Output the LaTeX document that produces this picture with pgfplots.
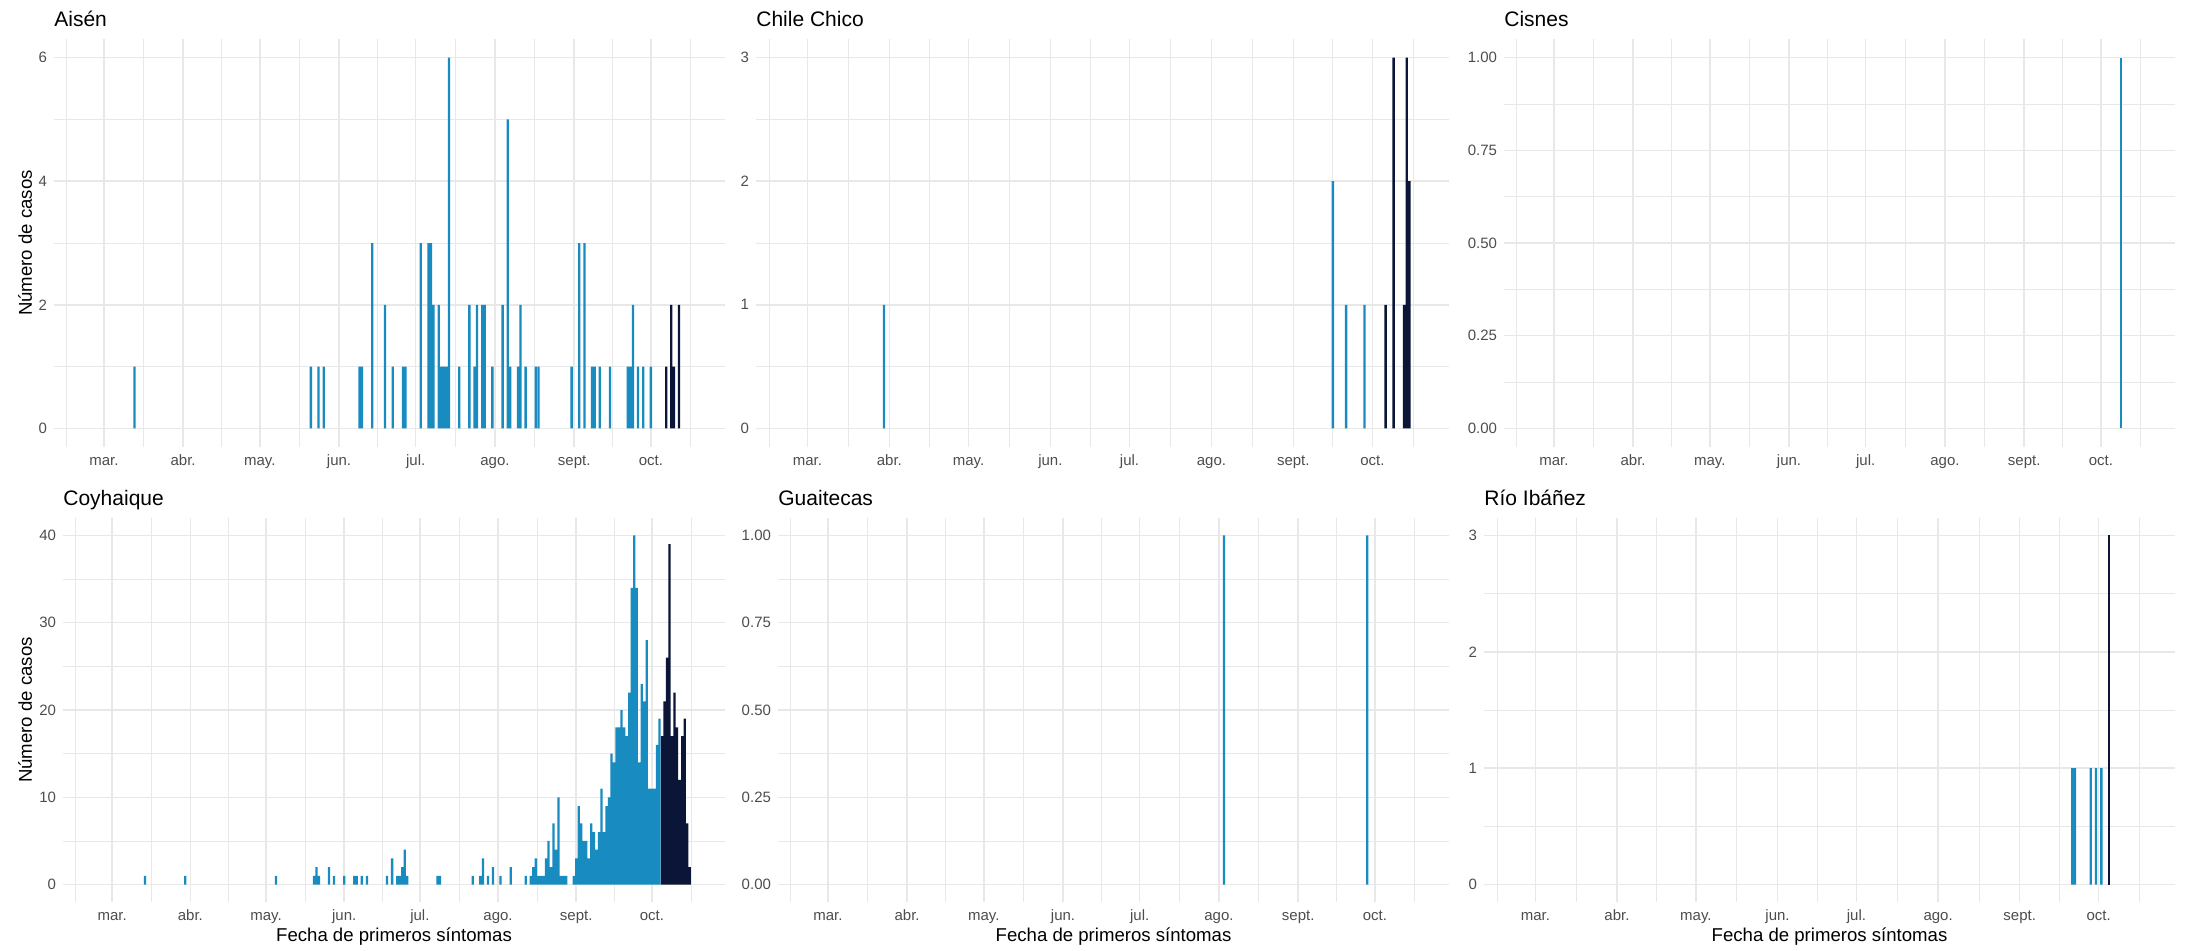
\documentclass[border=0pt]{standalone}
\usepackage{fontspec}
\setmainfont{Liberation Sans}
\usepackage{pgfplots}
\pgfplotsset{compat=1.18}
\definecolor{cblue}{RGB}{24,140,192}
\definecolor{cdark}{RGB}{11,21,56}
\definecolor{gridc}{RGB}{232,232,232}
\definecolor{tickc}{RGB}{77,77,77}
\pgfplotsset{
  panel/.style={
    scale only axis,
    xmin=-19.5, xmax=243,
    xtick={0,31,61,92,122,153,184,214},
    xticklabels={mar.,abr.,may.,jun.,jul.,ago.,sept.,oct.},
    minor xtick={-14.5,15.5,46,76.5,107,137.5,168.5,199,229.5},
    grid=both,
    major grid style={draw=gridc, line width=0.75pt},
    minor grid style={draw=gridc, line width=0.4pt},
    axis line style={draw=none},
    tick style={draw=none},
    tick label style={font=\fontsize{7.5}{9}\selectfont, text=tickc},
    xticklabel style={anchor=base, yshift=-9pt},
    /pgf/number format/assume math mode=true,
    every axis title/.style={font=\fontsize{10.5}{12}\selectfont, at={(axis description cs:0,1)}, anchor=base west, yshift=6.5pt, inner sep=0pt},
    every axis y label/.style={rotate=90, anchor=center, font=\fontsize{9.3}{11}\selectfont},
    every axis x label/.style={at={(axis description cs:0.5,0)}, yshift=-17.5pt, anchor=center, font=\fontsize{9.3}{11}\selectfont},
  },
  toprow/.style={panel, height=204pt},
  botrow/.style={panel, height=192pt},
  bl/.style={ybar, bar width=0.9, bar shift=0pt, fill=cblue, draw=none},
  dk/.style={ybar, bar width=0.9, bar shift=0pt, fill=cdark, draw=none},
}
\begin{document}
\begin{tikzpicture}
\path[use as bounding box] (0,0) rectangle (1094.5pt,475pt);

% Aisen
\begin{axis}[toprow, width=335.5pt, at={(27pt,251.5pt)}, anchor=south west,
  ymin=-0.3, ymax=6.3, ytick={0,2,4,6}, yticklabels={0,2,4,6}, minor ytick={1,3,5},
  title={Aisén}, ylabel={Número de casos},
  ylabel style={at={(axis description cs:-0.0432,0.5)}}]
\addplot[bl] coordinates {(12,1) (81,1) (84,1) (86,1) (100,1) (101,1) (105,3) (110,2) (113,1) (117,1) (118,1) (124,3) (127,3) (128,3) (129,2) (131,2) (132,1) (133,1) (134,1) (135,6) (139,1) (143,2) (145,1) (146,2) (148,2) (149,2) (152,1) (156,2) (158,5) (159,1) (162,1) (163,2) (165,1) (169,1) (170,1) (183,1) (186,3) (188,3) (191,1) (192,1) (194,1) (198,1) (205,1) (206,1) (207,2) (209,1) (211,1) (214,1)};
\addplot[dk] coordinates {(220,1) (222,2) (223,1) (225,2)};
\end{axis}

% Chile Chico
\begin{axis}[toprow, width=346.5pt, at={(378pt,251.5pt)}, anchor=south west,
  ymin=-0.15, ymax=3.15, ytick={0,1,2,3}, yticklabels={0,1,2,3}, minor ytick={0.5,1.5,2.5},
  title={Chile Chico}]
\addplot[bl] coordinates {(29,1) (199,2) (204,1) (211,1)};
\addplot[dk] coordinates {(219,1) (222,3) (226,1) (227,3) (228,2)};
\end{axis}

% Cisnes
\begin{axis}[toprow, width=335.5pt, at={(752pt,251.5pt)}, anchor=south west,
  ymin=-0.05, ymax=1.05, ytick={0,0.25,0.5,0.75,1}, yticklabels={0.00,0.25,0.50,0.75,1.00}, minor ytick={0.125,0.375,0.625,0.875},
  title={Cisnes}]
\addplot[bl] coordinates {(222,1)};
\end{axis}

% Coyhaique
\begin{axis}[botrow, width=331pt, at={(31.5pt,24pt)}, anchor=south west,
  ymin=-2, ymax=42, ytick={0,10,20,30,40}, yticklabels={0,10,20,30,40}, minor ytick={5,15,25,35},
  title={Coyhaique}, ylabel={Número de casos}, xlabel={Fecha de primeros síntomas},
  ylabel style={at={(axis description cs:-0.0574,0.5)}}]
\addplot[bl] coordinates {(13,1) (29,1) (65,1) (80,1) (81,2) (82,1) (86,2) (88,1) (92,1) (96,1) (97,1) (99,1) (101,1) (109,1) (111,3) (113,1) (114,1) (115,2) (116,4) (117,1) (129,1) (130,1) (143,1) (146,1) (147,3) (149,1) (151,2) (154,1) (158,2) (164,1)
 (166,1) (167,2) (168,3) (169,1) (170,1) (171,1) (172,3) (173,5) (174,2) (175,7) (176,4) (177,10) (178,1) (179,1) (180,1)
 (183,1) (184,3) (185,9) (186,7) (187,5) (188,5) (189,3) (190,7) (191,6) (192,4) (193,6) (194,11) (195,6) (196,9) (197,10) (198,15) (199,14) (200,18) (201,18) (202,20) (203,18) (204,17) (205,22) (206,34) (207,40) (208,34) (209,14) (210,23) (211,21) (212,28) (213,11) (214,11) (215,11) (216,16) (217,19)};
\addplot[dk] coordinates {(218,17) (219,21) (220,26) (221,39) (222,17) (223,22) (224,18) (225,12) (226,17) (227,19) (228,7) (229,2)};
\end{axis}

% Guaitecas
\begin{axis}[botrow, width=335.5pt, at={(389pt,24pt)}, anchor=south west,
  ymin=-0.05, ymax=1.05, ytick={0,0.25,0.5,0.75,1}, yticklabels={0.00,0.25,0.50,0.75,1.00}, minor ytick={0.125,0.375,0.625,0.875},
  title={Guaitecas}, xlabel={Fecha de primeros síntomas}]
\addplot[bl] coordinates {(155,1) (211,1)};
\end{axis}

% Rio Ibanez
\begin{axis}[botrow, width=345.5pt, at={(742pt,24pt)}, anchor=south west,
  ymin=-0.15, ymax=3.15, ytick={0,1,2,3}, yticklabels={0,1,2,3}, minor ytick={0.5,1.5,2.5},
  title={Río Ibáñez}, xlabel={Fecha de primeros síntomas}]
\addplot[bl] coordinates {(204,1) (205,1) (211,1) (213,1) (215,1)};
\addplot[dk] coordinates {(218,3)};
\end{axis}
\end{tikzpicture}
\end{document}
